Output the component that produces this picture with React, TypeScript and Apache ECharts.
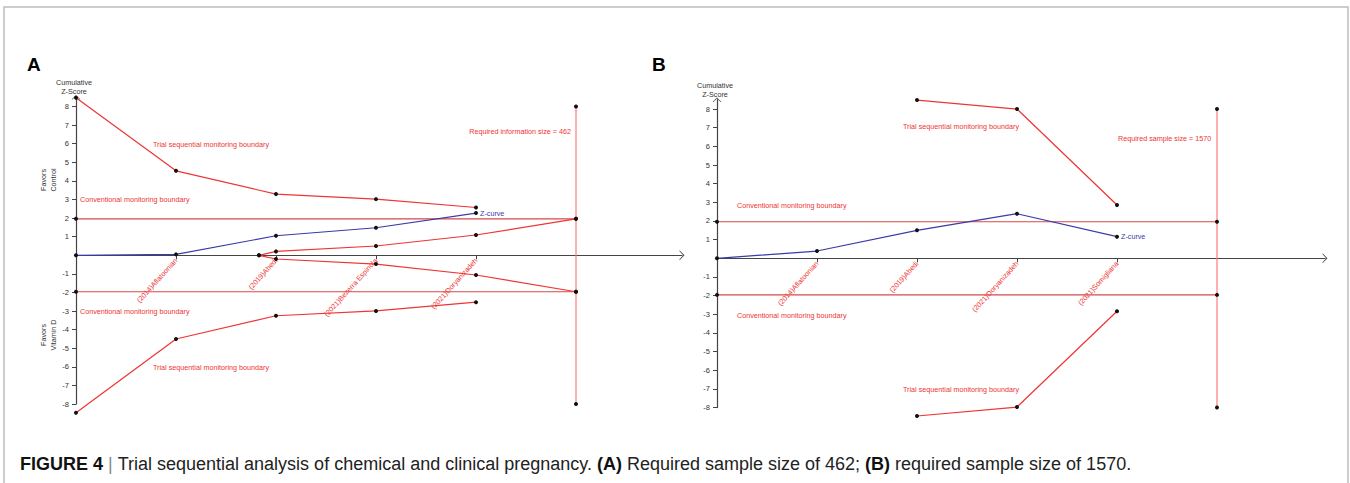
import React, { useEffect, useRef } from 'react';
import * as echarts from 'echarts';

// ---------- data ----------
const studiesA = ['(2014)Aflatoonian', '(2019)Abedi', '(2021)Bezerra Espinola', '(2021)Doryanizadeh'];
const studiesB = ['(2014)Aflatoonian', '(2019)Abedi', '(2021)Doryanizadeh', '(2021)Somigliana'];
const yTicks = [-8, -7, -6, -5, -4, -3, -2, -1, 1, 2, 3, 4, 5, 6, 7, 8];
const studyTicks = [1, 2, 3, 4];
const risIndex = 5;
const conventionalZ = 1.96;
const risExtent = [8, -8];
const yMin = -8;
const yMax = 8.5;

// Panel A (x = cumulative study index)
const zCurveA = [0, 0.05, 1.05, 1.48, 2.27];
const upperBoundaryA = [8.47, 4.54, 3.29, 3.02, 2.57];
const lowerBoundaryA = [-8.47, -4.5, -3.25, -2.99, -2.52];
const innerUpperA = [[1.83, 0], [2, 0.21], [3, 0.5], [4, 1.09], [5, 1.96]];
const innerLowerA = [[1.83, 0], [2, -0.2], [3, -0.47], [4, -1.06], [5, -1.96]];

// Panel B
const zCurveB = [0, 0.39, 1.5, 2.39, 1.16];
const boundaryStartB = 2;
const upperBoundaryB = [8.48, 8.0, 2.86];
const lowerBoundaryB = [-8.45, -7.97, -2.84];

// ---------- styles ----------
const FONT = 'Liberation Sans, Arial, sans-serif';
const RED = '#ee3434';
const CONV = '#d64848';
const RIS = '#ff7a7a';
const BLUE = '#3a3aa8';
const DOT = '#111';
const AXIS = '#444';
const ARROW = 'path://M0,5 L5,0 L10,5 L9,5 L5,1.3 L1,5 Z';

const UNIT_A = 18.6;
const UNIT_B = 18.66;
const GRID_A = { left: 76, top: 97.2, width: 606, height: (yMax - yMin) * UNIT_A };
const GRID_B = { left: 717, top: 99.7, width: 608, height: (yMax - yMin) * UNIT_B };

const xAxisFor = (gridIndex: number, labels: string[], max: number, unit: number) => ({
  type: 'value',
  gridIndex,
  min: 0,
  max,
  offset: yMin * unit,
  axisLine: {
    show: true,
    onZero: false,
    symbol: ['none', ARROW],
    symbolSize: [10, 5],
    lineStyle: { color: AXIS, width: 1.2 },
  },
  axisTick: { show: true, customValues: studyTicks, length: 4, lineStyle: { color: AXIS } },
  axisLabel: {
    show: true,
    customValues: studyTicks,
    formatter: (v: number) => labels[Math.round(v) - 1] ?? '',
    rotate: 48,
    color: RED,
    fontSize: 7.2,
    fontFamily: FONT,
    margin: 4,
  },
  splitLine: { show: false },
});

const yAxisFor = (gridIndex: number) => ({
  type: 'value',
  gridIndex,
  min: yMin,
  max: yMax,
  axisLine: {
    show: true,
    onZero: false,
    symbol: ['none', ARROW],
    symbolSize: [9, 4.5],
    lineStyle: { color: AXIS, width: 1.2 },
  },
  axisTick: { show: true, customValues: yTicks, length: 4, lineStyle: { color: AXIS } },
  axisLabel: { show: true, customValues: yTicks, color: '#333', fontSize: 7.5, fontFamily: FONT, margin: 7 },
  splitLine: { show: false },
});

const line = (idx: number, data: any[], color: string, extra: any = {}) => ({
  type: 'line',
  xAxisIndex: idx,
  yAxisIndex: idx,
  data,
  symbol: 'circle',
  symbolSize: 4,
  showSymbol: true,
  clip: false,
  itemStyle: { color: DOT },
  lineStyle: { color, width: 1.2 },
  emphasis: { disabled: true },
  silent: true,
  animation: false,
  ...extra,
});

const withLabelOnLast = (arr: number[][]) =>
  arr.map((p, i) =>
    i === arr.length - 1
      ? {
          value: p,
          label: { show: true, position: 'right', formatter: 'Z-curve', color: BLUE, fontSize: 7.2, fontFamily: FONT, distance: 2 },
        }
      : { value: p }
  );

const txt = (x: number, y: number, text: string, color: string, align = 'left', extra: any = {}) => ({
  type: 'text',
  x,
  y,
  silent: true,
  style: { text, fill: color, font: `7.2px ${FONT}`, align, verticalAlign: 'middle', ...extra },
});

export default function App() {
  const ref = useRef<HTMLDivElement>(null);
  useEffect(() => {
    if (!ref.current) return;
    const chart = echarts.init(ref.current, undefined, { renderer: 'svg' });

    const series = [
      // Panel A
      line(0, [[0, conventionalZ], [risIndex, conventionalZ]], CONV),
      line(0, [[0, -conventionalZ], [risIndex, -conventionalZ]], CONV),
      line(0, risExtent.map((v) => [risIndex, v]), RIS),
      line(0, upperBoundaryA.map((v, i) => [i, v]), RED),
      line(0, lowerBoundaryA.map((v, i) => [i, v]), RED),
      line(0, innerUpperA, RED),
      line(0, innerLowerA, RED),
      line(0, withLabelOnLast(zCurveA.map((v, i) => [i, v])), BLUE),
      // Panel B
      line(1, [[0, conventionalZ], [risIndex, conventionalZ]], CONV),
      line(1, [[0, -conventionalZ], [risIndex, -conventionalZ]], CONV),
      line(1, risExtent.map((v) => [risIndex, v]), RIS),
      line(1, upperBoundaryB.map((v, i) => [i + boundaryStartB, v]), RED),
      line(1, lowerBoundaryB.map((v, i) => [i + boundaryStartB, v]), RED),
      line(1, withLabelOnLast(zCurveB.map((v, i) => [i, v])), BLUE),
    ];

    const graphic = [
      { type: 'rect', silent: true, shape: { x: 4, y: 7, width: 1344, height: 500 }, style: { fill: 'none', stroke: '#bdbdbd', lineWidth: 1.5 } },
      { type: 'text', x: 27, y: 64, style: { text: 'A', font: `bold 19px ${FONT}`, fill: '#000', verticalAlign: 'middle' } },
      { type: 'text', x: 652, y: 64, style: { text: 'B', font: `bold 19px ${FONT}`, fill: '#000', verticalAlign: 'middle' } },
      // Panel A annotations
      txt(74, 82, 'Cumulative', '#333', 'center'),
      txt(74, 91, 'Z-Score', '#333', 'center'),
      { type: 'text', x: 48.5, y: 180, rotation: Math.PI / 2, silent: true, style: { text: 'Favors\nControl', fill: '#333', font: `7.2px ${FONT}`, align: 'center', verticalAlign: 'middle', lineHeight: 10 } },
      { type: 'text', x: 48.5, y: 335, rotation: Math.PI / 2, silent: true, style: { text: 'Favors\nVitamin D', fill: '#333', font: `7.2px ${FONT}`, align: 'center', verticalAlign: 'middle', lineHeight: 10 } },
      txt(153, 144, 'Trial sequential monitoring boundary', RED),
      txt(80, 199, 'Conventional monitoring boundary', RED),
      txt(80, 311, 'Conventional monitoring boundary', RED),
      txt(153, 367, 'Trial sequential monitoring boundary', RED),
      txt(571, 131, 'Required information size = 462', RED, 'right'),
      // Panel B annotations
      txt(715, 85, 'Cumulative', '#333', 'center'),
      txt(715, 94, 'Z-Score', '#333', 'center'),
      txt(903, 126, 'Trial sequential monitoring boundary', RED),
      txt(737, 205, 'Conventional monitoring boundary', RED),
      txt(737, 315, 'Conventional monitoring boundary', RED),
      txt(903, 389, 'Trial sequential monitoring boundary', RED),
      txt(1118, 138, 'Required sample size = 1570', RED),
      // Caption
      {
        type: 'text',
        x: 20,
        y: 464,
        silent: true,
        style: {
          text: '{b|FIGURE 4}{s| | }{n|Trial sequential analysis of chemical and clinical pregnancy. }{b|(A)}{n| Required sample size of 462; }{b|(B)}{n| required sample size of 1570.}',
          verticalAlign: 'middle',
          rich: {
            b: { font: `bold 18px ${FONT}`, fill: '#111' },
            n: { font: `18px ${FONT}`, fill: '#222' },
            s: { font: `18px ${FONT}`, fill: '#888' },
          },
        },
      },
    ];

    chart.setOption({
      animation: false,
      grid: [GRID_A, GRID_B],
      xAxis: [xAxisFor(0, studiesA, 6.06, UNIT_A), xAxisFor(1, studiesB, 6.08, UNIT_B)],
      yAxis: [yAxisFor(0), yAxisFor(1)],
      series,
      graphic,
    });
    return () => chart.dispose();
  }, []);
  return <div ref={ref} style={{ position: 'fixed', left: 0, top: 0, width: 1350, height: 483, background: '#fff' }} />;
}
